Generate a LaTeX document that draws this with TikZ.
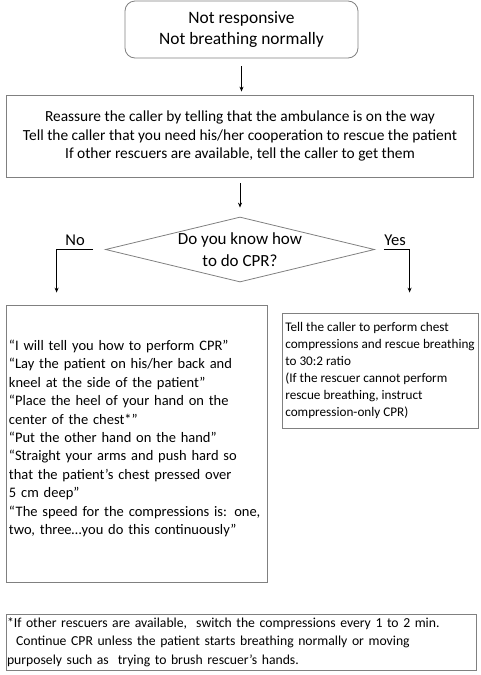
\documentclass[tikz,border=0pt]{standalone}
\usepackage{fontspec}
\setmainfont{Carlito}
\usetikzlibrary{shapes.geometric,arrows.meta}

\begin{document}
\begin{tikzpicture}[x=1pt, y=-1pt,
            box/.style = {draw=gray, line width=0.8pt, inner sep=3pt},
            arr/.style = {-{Stealth[length=5pt,width=4pt]}, line width=0.9pt}]

           \useasboundingbox (0,0) rectangle (480,675);

           \node[box, rounded corners=10pt, minimum width=233pt, minimum height=57pt, align=center,
                 font=\fontsize{17.4}{21}\selectfont] (start) at (241.5,29.5) {Not responsive\\Not breathing normally};
           \node[box, minimum width=467pt, minimum height=82pt, align=center,
                 font=\fontsize{15.4}{18.8}\selectfont] (info) at (240,136)
                 {Reassure the caller by telling that the ambulance is on the way\\
                  Tell the caller that you need his/her cooperation to rescue the patient\\
                  If other rescuers are available, tell the caller to get them};
           \node[box, diamond, minimum width=269pt, minimum height=65pt, inner sep=0pt,
                 label={[align=center, font=\fontsize{17}{22}\selectfont]center:{Do you know how\\to do CPR?}}] (q) at (240,249.5) {};
           \node[box, minimum width=261pt, minimum height=277pt, text width=255pt, align=left,
                 font=\fontsize{14.5}{18.4}\selectfont] (nobox) at (136.5,443.5)
                 {“I will tell you how to perform CPR”\\
                  “Lay the patient on his/her back and\\
                  kneel at the side of the patient”\\
                  “Place the heel of your hand on the\\
                  center of the chest*”\\
                  “Put the other hand on the hand”\\
                  “Straight your arms and push hard so\\
                  that the patient’s chest pressed over\\
                  5 cm deep”\\
                  “The speed for the compressions is: one,\\
                  two, three…you do this continuously”\\[-6pt]\mbox{}};
           \node[box, minimum width=196pt, minimum height=115pt, inner xsep=1pt, align=left,
                 font=\fontsize{13.2}{17}\selectfont] (yesbox) at (380,370.5)
                 {Tell the caller to perform chest\\
                  compressions and rescue breathing\\
                  to 30:2 ratio\\
                  (If the rescuer cannot perform\\
                  rescue breathing, instruct\\
                  compression-only CPR)};
           \node[box, minimum width=470pt, minimum height=56pt, text width=468pt, inner xsep=1pt, align=left,
                 font=\fontsize{13.7}{18.5}\selectfont] (note) at (241,642)
                 {*If other rescuers are available,\ \ switch the compressions every 1 to 2 min.\\
                  \ \ Continue CPR unless the patient starts breathing normally or moving\\
                  purposely such as\ \ trying to brush rescuer’s hands.};

            %frecce con etichetta
            \draw[arr, shorten <=8pt, shorten >=3pt] (start.south) -- (start.south |- info.north);
            \draw[arr, shorten <=6pt, shorten >=9pt] (info.south) -- (q.north);
            \draw[arr, shorten <=12pt, shorten >=12pt] (q.west) -| node[pos=0.31, above, font=\fontsize{16.5}{18}\selectfont] {No} ([xshift=51pt]nobox.north west);
            \draw[arr, shorten <=9pt, shorten >=20pt] (q.east) -| node[pos=0.29, above, font=\fontsize{16.5}{18}\selectfont] {Yes} ([xshift=128pt]yesbox.north west);
        \end{tikzpicture}
\end{document}
